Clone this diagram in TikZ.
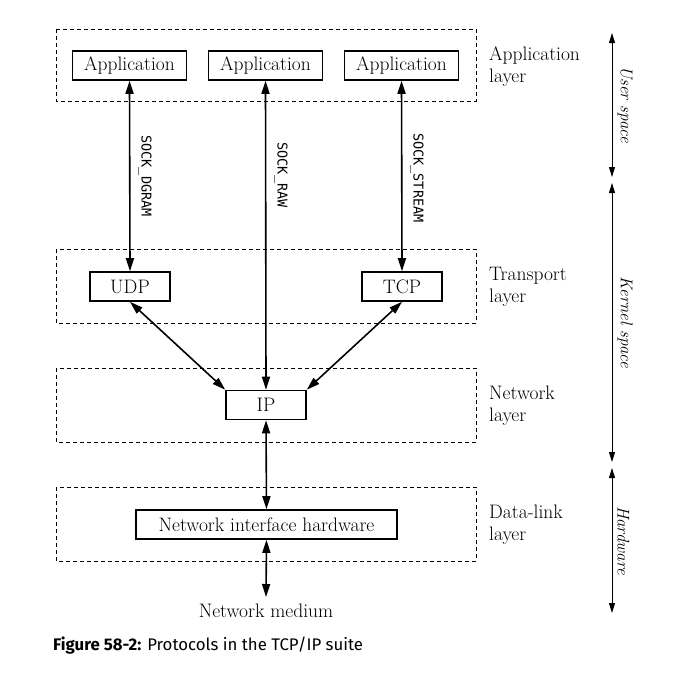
\documentclass[tikz,border=0pt]{standalone}
\usepackage{fontspec}
\usepackage{tikz}
\usetikzlibrary{arrows.meta}
\newfontfamily\sockfont{DejaVu Sans Mono}
\newfontfamily\capfont{Fira Sans}

\begin{document}
\begin{tikzpicture}[x=1pt,y=-1pt,
    box/.style={draw,line width=1.6pt,minimum height=29pt,inner sep=0pt,font=\fontsize{19.5}{21}\selectfont},
    layer/.style={draw,line width=0.8pt,dash pattern=on 4pt off 3pt},
    link/.style={{Triangle[length=13pt,width=8pt]}-{Triangle[length=13pt,width=8pt]},line width=1.6pt},
    sock/.style={rotate=-90,anchor=south,inner sep=8pt,font=\sockfont\fontsize{13.5}{16}\selectfont},
    lbl/.style={align=left,anchor=north west,inner sep=0pt,font=\fontsize{19.5}{22}\selectfont},
    span/.style={{Triangle[length=10pt,width=6pt]}-{Triangle[length=10pt,width=6pt]},line width=0.9pt},
    spacelbl/.style={rotate=-90,anchor=south,inner sep=5pt,font=\itshape\fontsize{17}{19}\selectfont}]
    \useasboundingbox (0,0) rectangle (693,673);

    % Layer frames
    \draw[layer] (56,29) rectangle (476,101);    % Application
    \draw[layer] (56,249) rectangle (476,323);   % Transport
    \draw[layer] (56,368) rectangle (476,442);   % Network
    \draw[layer] (56,487) rectangle (476,561);   % Data-link

    % Boxes
    \node[box,minimum width=114pt] (app1) at (129.5,65.5) {Application};
    \node[box,minimum width=114pt] (app2) at (265.5,65.5) {Application};
    \node[box,minimum width=114pt] (app3) at (401.5,65.5) {Application};
    \node[box,minimum width=80pt] (udp) at (130,286.5) {UDP};
    \node[box,minimum width=80pt] (tcp) at (402,286.5) {TCP};
    \node[box,minimum width=80pt] (ip) at (266,405) {IP};
    \node[box,minimum width=261pt] (nih) at (266.5,524.5) {Network interface hardware};
    \node[anchor=north,inner sep=7pt,font=\fontsize{19.5}{21}\selectfont] (medium) at (266,597) {Network medium};

    % Links
    \draw[link] (app1.south) -- node[sock,pos=0.5] {SOCK\_DGRAM} (udp.north);
    \draw[link] (app2.south) -- node[sock,pos=0.305] {SOCK\_RAW} (ip.north);
    \draw[link] (app3.south) -- node[sock,pos=0.51] {SOCK\_STREAM} (tcp.north);
    \draw[link] (udp.south) -- (ip.north west);
    \draw[link] (tcp.south) -- (ip.north east);
    \draw[link] (ip.south) -- (nih.north);
    \draw[link] (nih.south) -- (medium.north);

    % Layer names
    \node[lbl] (applayer) at (489,47) {Application\\layer};
    \node[lbl] (translayer) at (489,267) {Transport\\layer};
    \node[lbl] (netlayer) at (489,386) {Network\\layer};
    \node[lbl] (linklayer) at (489,505) {Data-link\\layer};

    % Spaces
    \coordinate (us1) at (612,33);
    \coordinate (us2) at (612,177);
    \coordinate (ks1) at (612,183);
    \coordinate (ks2) at (612,462);
    \coordinate (hw1) at (612,468);
    \coordinate (hw2) at (612,613);
    \draw[span] (us1) -- node[spacelbl] (user) {User space} (us2);
    \draw[span] (ks1) -- node[spacelbl] (kernel) {Kernel space} (ks2);
    \draw[span] (hw1) -- node[spacelbl] (hard) {Hardware} (hw2);

    % Caption
    \node[anchor=base west,inner sep=0pt,font=\capfont\fontsize{16.8}{19}\selectfont] (caption) at (53,650) {\textbf{Figure 58-2:} Protocols in the TCP/IP suite};
\end{tikzpicture}
\end{document}
